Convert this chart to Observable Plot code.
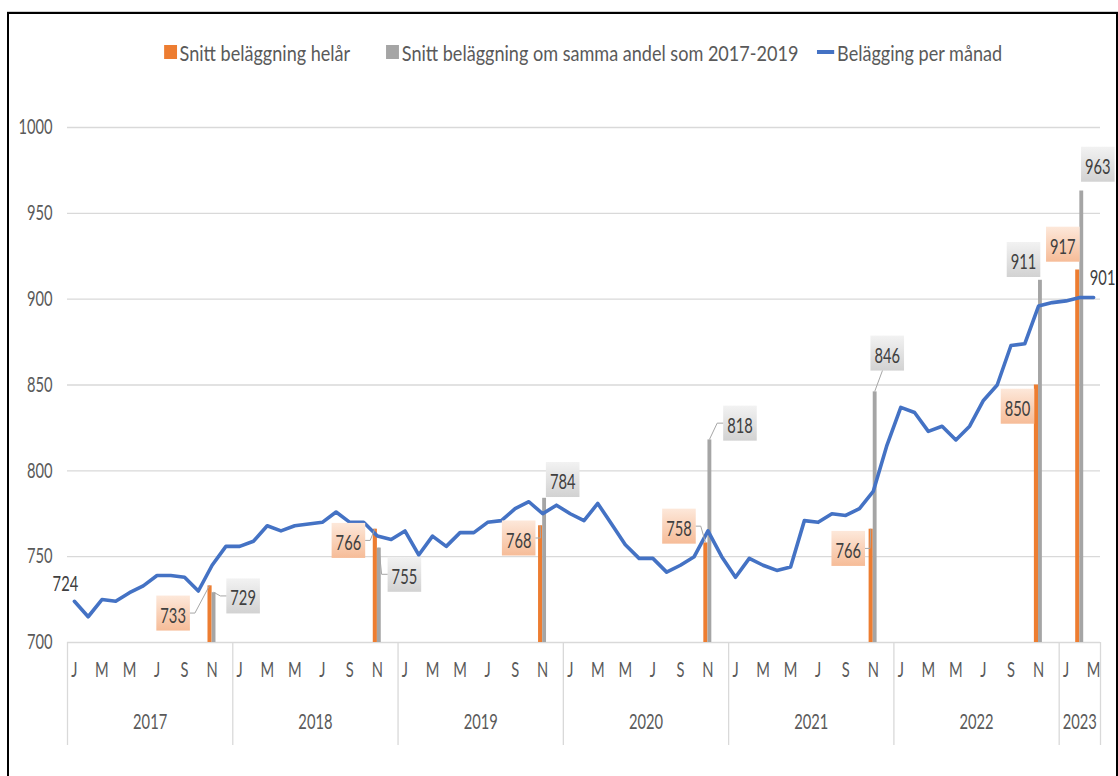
<!DOCTYPE html>
<html>
<head>
<meta charset="utf-8">
<script src="https://cdn.jsdelivr.net/npm/d3@7"></script>
<script src="https://cdn.jsdelivr.net/npm/@observablehq/plot@0.6"></script>
<style>
html,body{margin:0;padding:0;background:#fff;}
body{width:1118px;height:776px;overflow:hidden;position:relative;font-family:Lato,"Open Sans","DejaVu Sans Condensed",sans-serif;}
#frame{position:absolute;left:7px;top:12px;right:0;bottom:-10px;border:2px solid #000;border-bottom:none;box-shadow:0 -1px 0 #cfcfcf;}
#legend{position:absolute;top:38px;left:67px;width:1033px;height:28px;display:flex;justify-content:center;align-items:center;}
#legin{display:inline-flex;align-items:center;font-size:21px;color:#5a5a5a;white-space:nowrap;transform-origin:50% 50%;}
#legin .item{display:flex;align-items:center;}
#legin .sw{display:inline-block;width:15px;height:14px;margin-right:3px;}
#legin .ln{display:inline-block;width:20px;height:3.5px;margin-right:3px;background:#4472C4;}
#chart{position:absolute;top:80px;left:0;}
</style>
</head>
<body>
<div id="frame"></div>
<div id="legend"><div id="legin"></div></div>
<div id="chart"></div>
<script>
// ---------- data ----------
const firstYear = 2017;
const years = ["2017","2018","2019","2020","2021","2022","2023"];
const monthLetters = ["J","F","M","A","M","J","J","A","S","O","N","D"];
// Beläggning per månad, Jan 2017 – Mar 2023
const monthly = [
  724, 715, 725, 724, 729, 733, 739, 739, 738, 730, 745, 756,
  756, 759, 768, 765, 768, 769, 770, 776, 770, 770, 762, 760,
  765, 751, 762, 756, 764, 764, 770, 771, 778, 782, 775, 780,
  775, 771, 781, 769, 757, 749, 749, 741, 745, 750, 765, 750,
  738, 749, 745, 742, 744, 771, 770, 775, 774, 778, 788, 815,
  837, 834, 823, 826, 818, 826, 841, 850, 873, 874, 896, 898,
  899, 901, 901
];
const barPeriods = ["2017-11","2018-11","2019-11","2020-11","2021-11","2022-11","2023-02"];
const helar = [733, 766, 768, 758, 766, 850, 917];          // Snitt beläggning helår
const sammaAndel = [729, 755, 784, 818, 846, 911, 963];     // Snitt beläggning om samma andel som 2017-2019
const yTicks = [700, 750, 800, 850, 900, 950, 1000];
const seriesNames = ["Snitt beläggning helår", "Snitt beläggning om samma andel som 2017-2019", "Belägging per månad"];
const colors = {orange: "#ED7D31", gray: "#A5A5A5", blue: "#4472C4"};

// label placement nudges (px), like manually placed Excel data labels
const orangeNudges = [
  {dx:-39, dy:30, leader:"h"}, {dx:-29, dy:14, leader:"h"}, {dx:-24, dy:15, leader:"h"},
  {dx:-29, dy:-14, leader:"h"}, {dx:-25, dy:22, leader:"h"}, {dx:-21, dy:24, leader:null},
  {dx:-17, dy:-23, leader:null}
];
const grayNudges = [
  {dx:31, dy:6, leader:"h"}, {dx:27, dy:29, leader:"h"}, {dx:20, dy:-16, leader:null},
  {dx:32, dy:-14, leader:"h"}, {dx:14, dy:-36, leader:"v"}, {dx:-15, dy:-18, leader:null},
  {dx:18, dy:-24, leader:null}
];

// ---------- derived tables ----------
const nMonths = monthly.length;
const periodIndex = p => { const [y, m] = p.split("-").map(Number); return (y - firstYear) * 12 + (m - 1); };
const bars = barPeriods.map((p, k) => ({i: periodIndex(p), orange: helar[k], gray: sammaAndel[k]}));
const monthTicks = d3.range(nMonths).filter(i => (i % 12) % 2 === 0).map(i => ({i, label: monthLetters[i % 12]}));
const yearSpans = years.map((y, k) => ({year: y, start: k * 12, n: Math.min(12, nMonths - k * 12)}));
const boundaries = [...yearSpans.map(d => d.start), nMonths];
const yBase = yTicks[0];

// ---------- legend ----------
const legin = document.getElementById("legin");
legin.innerHTML =
  `<span class="item"><span class="sw" style="background:${colors.orange}"></span>${seriesNames[0]}</span>` +
  `<span class="item" style="margin-left:42px"><span class="sw" style="background:${colors.gray}"></span>${seriesNames[1]}</span>` +
  `<span class="item" style="margin-left:22px"><span class="ln"></span>${seriesNames[2]}</span>`;
{
  const w = legin.getBoundingClientRect().width;
  legin.style.transform = `scale(${838 / w}, 1)`;
}

// ---------- labels ----------
const labelSpecs = [
  ...bars.map((b, k) => ({kind: "o", i: b.i, v: b.orange, ...orangeNudges[k]})),
  ...bars.map((b, k) => ({kind: "g", i: b.i, v: b.gray, ...grayNudges[k]}))
];
const labelMarks = labelSpecs.map((s) =>
  Plot.text([s], {x: d => d.i + 0.5, y: d => d.v, text: d => String(d.v), dx: s.dx, dy: s.dy,
    fill: "#404040", fontSize: 21}));

const FONT = 'Lato,"Open Sans","DejaVu Sans Condensed",sans-serif';

const plot = Plot.plot({
  width: 1118, height: 696,
  marginLeft: 67, marginRight: 18, marginTop: 47, marginBottom: 134,
  x: {type: "linear", domain: [0, nMonths], axis: null},
  y: {domain: [yTicks[0], yTicks[yTicks.length - 1]], axis: null},
  style: {fontFamily: FONT, fontSize: "21px", color: "#595959", background: "transparent", overflow: "visible"},
  marks: [
    Plot.gridY(yTicks, {stroke: "#d9d9d9", strokeOpacity: 1, strokeWidth: 1.3}),
    Plot.axisY(yTicks, {tickSize: 0, tickPadding: 15, fontSize: 21, fill: "#5a5a5a", tickFormat: d => String(d)}),
    Plot.axisX(boundaries, {tickSize: 103, stroke: "#d9d9d9", strokeOpacity: 1, strokeWidth: 1.3, tickFormat: () => ""}),
    Plot.text(monthTicks, {x: d => d.i + 0.5, text: d => d.label, frameAnchor: "bottom", dy: 34, fill: "#5a5a5a", fontSize: 21}),
    Plot.text(yearSpans, {x: d => d.start + d.n / 2, text: d => d.year, frameAnchor: "bottom", dy: 86, fill: "#5a5a5a", fontSize: 21}),
    Plot.rect(bars, {x1: d => d.i + 0.2, x2: d => d.i + 0.5, y1: () => yBase, y2: d => d.orange, fill: colors.orange}),
    Plot.rect(bars, {x1: d => d.i + 0.5, x2: d => d.i + 0.78, y1: () => yBase, y2: d => d.gray, fill: colors.gray}),
    Plot.line(monthly, {x: (d, i) => i + 0.5, y: d => d, stroke: colors.blue, strokeWidth: 3.6, strokeLinejoin: "round", strokeLinecap: "round"}),
    Plot.text([{i: 0, v: monthly[0]}], {x: d => d.i + 0.5, y: d => d.v, text: d => String(d.v), dx: -9, dy: -17, fill: "#404040", fontSize: 21}),
    Plot.text([{i: nMonths - 1, v: monthly[nMonths - 1]}], {x: d => d.i + 0.5, y: d => d.v, text: d => String(d.v), dx: 9, dy: -19, fill: "#404040", fontSize: 21}),
    ...labelMarks
  ]
});

document.getElementById("chart").appendChild(plot);

// ---------- condensed text look (narrow, like the original) ----------
const SQUISH = 0.7;
plot.querySelectorAll("text").forEach(t => {
  const L = t.getComputedTextLength();
  if (L > 0) {
    t.setAttribute("textLength", (L * SQUISH).toFixed(2));
    t.setAttribute("lengthAdjust", "spacingAndGlyphs");
  }
});

// ---------- label boxes & leader lines ----------
const svg = d3.select(plot);
const defs = svg.insert("defs", ":first-child");
const gO = defs.append("linearGradient").attr("id", "gradO").attr("x1", 0).attr("y1", 0).attr("x2", 0).attr("y2", 1);
gO.append("stop").attr("offset", "0%").attr("stop-color", "#fde8da");
gO.append("stop").attr("offset", "100%").attr("stop-color", "#f6bc98");
const gG = defs.append("linearGradient").attr("id", "gradG").attr("x1", 0).attr("y1", 0).attr("x2", 0).attr("y2", 1);
gG.append("stop").attr("offset", "0%").attr("stop-color", "#f2f2f2");
gG.append("stop").attr("offset", "100%").attr("stop-color", "#d2d2d2");

const sx = plot.scale("x"), sy = plot.scale("y");
const svgRect = plot.getBoundingClientRect();
const allTexts = Array.from(plot.querySelectorAll("text"));
const used = new Set();
labelSpecs.forEach((s) => {
  const ex = sx.apply(s.i + 0.5) + s.dx, ey = sy.apply(s.v) + s.dy;
  let best = null, bestD = Infinity;
  for (const t of allTexts) {
    if (used.has(t) || t.textContent.trim() !== String(s.v)) continue;
    const r = t.getBoundingClientRect();
    const cx = (r.left + r.right) / 2 - svgRect.left, cy = (r.top + r.bottom) / 2 - svgRect.top;
    const dd = Math.hypot(cx - ex, cy - ey);
    if (dd < bestD) { bestD = dd; best = t; }
  }
  if (!best) return;
  used.add(best);
  const r = best.getBoundingClientRect();
  const bx = r.left - svgRect.left - 4, by = r.top - svgRect.top - 6;
  const bw = r.width + 8, bh = r.height + 10;
  const grp = best.parentNode;
  const layer = document.createElementNS("http://www.w3.org/2000/svg", "g");
  grp.parentNode.insertBefore(layer, grp);
  const L = d3.select(layer);
  L.append("rect").attr("x", bx).attr("y", by).attr("width", bw).attr("height", bh)
    .attr("fill", s.kind === "o" ? "url(#gradO)" : "url(#gradG)");
  if (s.leader) {
    const cx = sx.apply(s.i + 0.5) + (s.kind === "o" ? -2 : 2);
    const cy = sy.apply(s.v);
    const ty = by + bh / 2;
    let pts;
    if (s.leader === "v") {
      pts = [[bx + 12, by + bh], [cx, cy]];
    } else if (bx + bw < cx) {
      pts = [[bx + bw, ty], [bx + bw + 5, ty], [cx, cy]];
    } else {
      pts = [[bx, ty], [bx - 6, ty], [cx, cy]];
    }
    L.append("polyline").attr("points", pts.map(p => p.join(",")).join(" "))
      .attr("fill", "none").attr("stroke", "#a6a6a6").attr("stroke-width", 1);
  }
});
</script>
</body>
</html>
